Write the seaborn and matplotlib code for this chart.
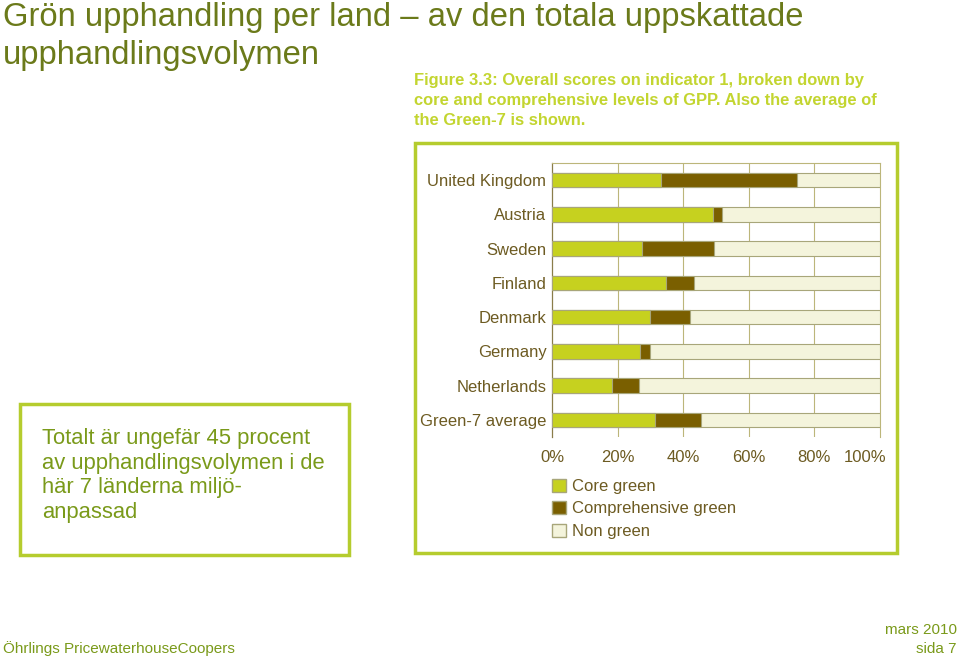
import matplotlib
matplotlib.use("Agg")
import matplotlib.pyplot as plt
import matplotlib.patches as mpatches
import matplotlib.transforms as mtransforms
import seaborn as sns
import pandas as pd
import numpy as np

# Values (percent of procurement volume)
countries = ["United Kingdom", "Austria", "Sweden", "Finland", "Denmark",
             "Germany", "Netherlands", "Green-7 average"]
core_green = [33.2, 49.1, 27.5, 34.8, 30.0, 26.8, 18.2, 31.5]
comprehensive_green = [41.6, 2.7, 21.8, 8.6, 12.1, 3.0, 8.4, 13.8]
ticks_pct = [0, 20, 40, 60, 80, 100]
tick_labels = ["0%", "20%", "40%", "60%", "80%", "100%"]

C_CORE = "#c6d11f"
C_COMP = "#7a5f00"
C_NON = "#f4f4dc"
C_EDGE = "#a8a67a"
C_TEXT = "#6d5b22"
C_LIME = "#c3d530"
C_BOX = "#b5cc2e"

df = pd.DataFrame({"country": countries, "core": core_green, "comp": comprehensive_green})
df["core_comp"] = df["core"] + df["comp"]
df["total"] = 100.0

sns.set_style("white")
plt.rcParams["font.family"] = ["Liberation Sans", "DejaVu Sans"]

W, H = 960, 658
fig = plt.figure(figsize=(W / 100, H / 100), dpi=100)
fig.patch.set_facecolor("white")

def fx(px):
    return px / W

def fy(py):
    return 1 - py / H

# page title
fig.text(fx(3), fy(2), "Grön upphandling per land – av den totala uppskattade\nupphandlingsvolymen",
         ha="left", va="top", fontsize=23.6, color="#6b7a1a", linespacing=1.3)

# chart frame
fig.patches.append(mpatches.Rectangle((fx(415), fy(553)), fx(897) - fx(415), fy(143) - fy(553),
                                      transform=fig.transFigure, fill=False, edgecolor=C_BOX, lw=2.5))
# text box frame
fig.patches.append(mpatches.Rectangle((fx(20), fy(555)), fx(349) - fx(20), fy(404) - fy(555),
                                      transform=fig.transFigure, fill=False, edgecolor=C_BOX, lw=2.5))

fig.text(fx(414), fy(73), "Figure 3.3: Overall scores on indicator 1, broken down by\n"
         "core and comprehensive levels of GPP. Also the average of\nthe Green-7 is shown.",
         ha="left", va="top", fontsize=11.9, fontweight="bold", color=C_LIME, linespacing=1.4)

fig.text(fx(42), fy(428), "Totalt är ungefär 45 procent\nav upphandlingsvolymen i de\nhär 7 länderna miljö-\nanpassad",
         ha="left", va="top", fontsize=15.8, color="#7a9a1a", linespacing=1.22)

fig.text(fx(3), fy(656), "Öhrlings PricewaterhouseCoopers", ha="left", va="bottom",
         fontsize=11, color="#7a9a1a")
fig.text(fx(957), fy(656), "mars 2010\nsida 7", ha="right", va="bottom",
         fontsize=11, color="#7a9a1a", multialignment="right", linespacing=1.45)

ax = fig.add_axes([fx(552), fy(437), fx(880) - fx(552), fy(163) - fy(437)])
ax.set_facecolor("white")

bar_w = 0.42
sns.barplot(data=df, x="total", y="country", orient="h", color=C_NON, edgecolor=C_EDGE,
            linewidth=0.8, width=bar_w, saturation=1, ax=ax, zorder=3)
sns.barplot(data=df, x="core_comp", y="country", orient="h", color=C_COMP, edgecolor=C_EDGE,
            linewidth=0.8, width=bar_w, saturation=1, ax=ax, zorder=3)
sns.barplot(data=df, x="core", y="country", orient="h", color=C_CORE, edgecolor=C_EDGE,
            linewidth=0.8, width=bar_w, saturation=1, ax=ax, zorder=3)

ax.set_xlim(0, 100)
ax.set_ylim(len(countries) - 0.5, -0.5)
ax.set_xlabel("")
ax.set_ylabel("")
ax.set_xticks(ticks_pct)
ax.set_xticklabels(tick_labels, fontsize=12, color=C_TEXT)
ax.tick_params(axis="x", length=5, width=0.8, color="#8a7d4a", pad=4)
ax.tick_params(axis="y", which="major", length=0, pad=4, labelsize=12, labelcolor=C_TEXT)
ax.set_yticks(np.arange(-0.5, len(countries), 1.0), minor=True)
ax.tick_params(axis="y", which="minor", length=4, width=0.8, color="#8a7d4a")
for t in ax.get_yticklabels():
    t.set_color(C_TEXT)

# last x label sits pulled in, as in the source figure
last = ax.get_xticklabels()[-1]
last.set_ha("right")
last.set_transform(last.get_transform() + mtransforms.ScaledTranslation(6 / 100, 0, fig.dpi_scale_trans))

for v in ticks_pct[1:-1]:
    ax.axvline(v, color="#bcb67a", lw=0.8, zorder=1)

for side in ["top", "right"]:
    ax.spines[side].set_color("#bcb67a")
    ax.spines[side].set_linewidth(0.8)
ax.spines["left"].set_color("#8a7d4a")
ax.spines["left"].set_linewidth(0.9)
ax.spines["bottom"].set_visible(False)

handles = [mpatches.Patch(facecolor=C_CORE, edgecolor=C_EDGE, label="Core green"),
           mpatches.Patch(facecolor=C_COMP, edgecolor=C_EDGE, label="Comprehensive green"),
           mpatches.Patch(facecolor=C_NON, edgecolor=C_EDGE, label="Non green")]
leg = fig.legend(handles=handles, loc="upper left", bbox_to_anchor=(fx(545), fy(472)),
                 frameon=False, fontsize=12, handlelength=0.85, handleheight=0.85,
                 handletextpad=0.35, labelspacing=0.42, borderaxespad=0)
for t in leg.get_texts():
    t.set_color(C_TEXT)

fig.savefig("out.png", dpi=100, facecolor="white")
